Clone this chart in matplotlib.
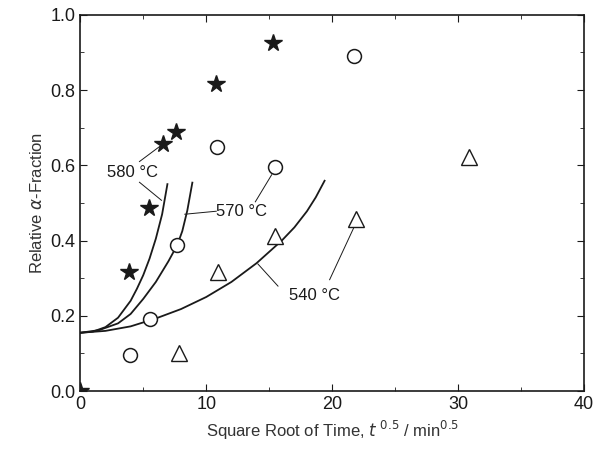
import matplotlib.pyplot as plt
from matplotlib.ticker import MultipleLocator

plt.rcParams['font.family'] = ['Liberation Sans', 'DejaVu Sans']
plt.rcParams['mathtext.fontset'] = 'dejavusans'

# measured points, sqrt(min) vs relative alpha fraction
star_x = [0.0, 3.87, 5.44, 6.6, 7.63, 10.8, 15.3]
star_y = [0.0, 0.316, 0.486, 0.656, 0.688, 0.816, 0.925]
circ_x = [3.93, 5.54, 7.71, 10.86, 15.44, 21.7]
circ_y = [0.095, 0.191, 0.388, 0.648, 0.595, 0.891]
tri_x = [7.82, 10.94, 15.44, 21.87, 30.9]
tri_y = [0.100, 0.317, 0.412, 0.457, 0.621]

# model curves
c580_x = [0, 1, 2, 3, 4, 4.5, 5, 5.5, 6, 6.5, 6.92]
c580_y = [0.155, 0.158, 0.170, 0.195, 0.240, 0.272, 0.308, 0.352, 0.405, 0.47, 0.55]
c570_x = [0, 1.5, 3, 4, 5, 6, 7, 7.7, 8.1, 8.5, 8.9]
c570_y = [0.155, 0.162, 0.180, 0.205, 0.245, 0.290, 0.345, 0.388, 0.425, 0.48, 0.554]
c540_x = [0, 2, 4, 6, 8, 10, 12, 14, 16, 17, 18, 18.7, 19.4]
c540_y = [0.155, 0.160, 0.172, 0.193, 0.218, 0.250, 0.290, 0.340, 0.400, 0.435, 0.478, 0.515, 0.559]

ink = '#1a1a1a'
fig = plt.figure(figsize=(5.99, 4.49), dpi=100)
ax = fig.add_axes([0.134, 0.129, 0.841, 0.838])

for cx, cy in [(c580_x, c580_y), (c570_x, c570_y), (c540_x, c540_y)]:
    ax.plot(cx, cy, color=ink, lw=1.3)

ax.plot(star_x, star_y, ls='none', marker='*', ms=13, mfc=ink, mec=ink)
ax.plot(circ_x, circ_y, ls='none', marker='o', ms=10, mfc='white', mec=ink, mew=1.1)
ax.plot(tri_x, tri_y, ls='none', marker='^', ms=12, mfc='white', mec=ink, mew=1.0)

# labels with leader lines
ax.text(4.15, 0.582, '580 °C', fontsize=12, ha='center', va='center', color=ink)
ax.plot([4.7, 6.45], [0.555, 0.507], color=ink, lw=0.7)
ax.plot([4.7, 6.5], [0.610, 0.655], color=ink, lw=0.7)
ax.text(12.8, 0.476, '570 °C', fontsize=12, ha='center', va='center', color=ink)
ax.plot([10.8, 8.3], [0.478, 0.470], color=ink, lw=0.7)
ax.plot([13.9, 15.2], [0.503, 0.575], color=ink, lw=0.7)
ax.text(18.6, 0.254, '540 °C', fontsize=12, ha='center', va='center', color=ink)
ax.plot([15.7, 14.1], [0.279, 0.338], color=ink, lw=0.7)
ax.plot([19.8, 21.7], [0.296, 0.433], color=ink, lw=0.7)

ax.set_xlim(0, 40)
ax.set_ylim(0, 1.0)
ax.xaxis.set_major_locator(MultipleLocator(10))
ax.xaxis.set_minor_locator(MultipleLocator(5))
ax.yaxis.set_major_locator(MultipleLocator(0.2))
ax.yaxis.set_minor_locator(MultipleLocator(0.1))
ax.yaxis.set_major_formatter(plt.FormatStrFormatter('%.1f'))
ax.tick_params(which='both', direction='in', top=True, right=True, labelsize=13, colors=ink)
ax.tick_params(which='major', length=5)
ax.tick_params(which='minor', length=3)
for s in ax.spines.values():
    s.set_color(ink)
    s.set_linewidth(1.2)

ax.set_xlabel(r'Square Root of Time, $t$ $^{0.5}$ / min$^{0.5}$', fontsize=12, color='#333333')
ax.set_ylabel(r'Relative $\alpha$-Fraction', fontsize=12, color='#333333')

fig.savefig('out.png', dpi=100)
